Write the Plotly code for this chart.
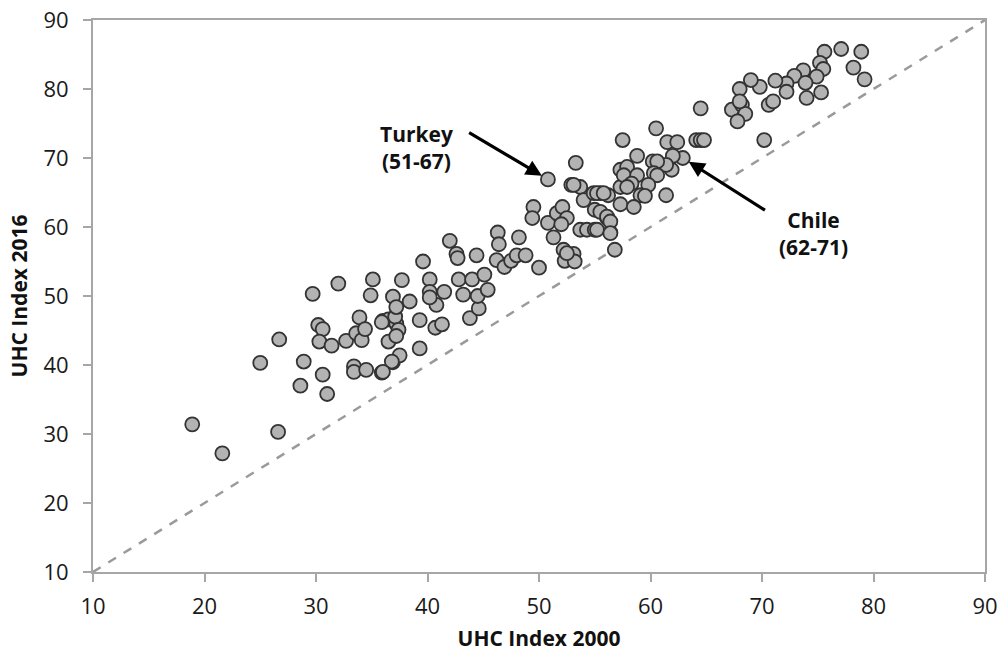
import plotly.graph_objects as go

# UHC Index 2000 (x) and 2016 (y)
uhc_2000 = [
    18.9, 21.6, 26.6, 25.0, 26.7, 28.6, 28.9, 29.7, 32.0, 35.1,
    34.9, 30.2, 30.6, 30.3, 31.4, 30.6, 31.0, 32.7, 33.9, 33.6,
    34.1, 34.4, 33.4, 33.4, 34.5, 35.9, 36.9, 36.0, 36.5, 37.2,
    37.1, 36.9, 37.2, 36.5, 37.7, 38.4, 37.4, 37.5, 36.8, 36.0,
    39.3, 39.3, 39.6, 40.2, 40.2, 41.5, 40.8, 40.7, 41.3, 42.0,
    42.6, 42.7, 42.8, 43.2, 44.0, 44.4, 43.8, 44.6, 44.5, 45.1,
    45.4, 46.3, 46.4, 46.2, 46.9, 47.5, 48.0, 48.8, 48.2, 50.0,
    49.5, 49.4, 50.8, 51.3, 51.6, 52.1, 52.5, 52.0, 52.2, 53.1,
    52.3, 53.2, 52.9, 53.7, 54.0, 53.7, 54.3, 55.0, 54.9, 55.5,
    56.2, 57.3, 57.3, 56.1, 56.4, 56.8, 50.8, 57.5, 60.5, 64.5,
    67.3, 68.2, 68.5, 67.8, 70.6, 70.2, 64.1, 64.5, 64.8, 61.5,
    62.4, 62.9, 62.0, 61.9, 61.4, 60.2, 60.6, 60.3, 60.6, 58.8,
    53.3, 57.3, 57.9, 57.6, 58.8, 58.3, 57.9, 59.8, 59.1, 59.5,
    58.5, 61.4, 55.2, 55.8, 55.0, 55.5, 56.1, 56.4, 55.2, 56.4,
    53.1, 52.5, 75.6, 77.1, 78.9, 78.2, 79.2, 75.2, 75.5, 74.9,
    73.7, 72.9, 73.9, 74.0, 75.3, 72.2, 72.2, 71.2, 71.0, 69.8,
    69.0, 68.0, 68.0, 40.2, 35.9, 37.2,
]
uhc_2016 = [
    31.4, 27.2, 30.3, 40.3, 43.7, 37.0, 40.5, 50.3, 51.8, 52.4,
    50.1, 45.8, 45.2, 43.4, 42.8, 38.6, 35.8, 43.5, 46.9, 44.6,
    43.6, 45.2, 39.8, 39.0, 39.3, 38.9, 40.4, 46.4, 46.6, 46.0,
    47.0, 49.9, 48.4, 43.4, 52.3, 49.2, 45.1, 41.4, 40.5, 39.0,
    42.4, 46.5, 55.0, 52.4, 50.6, 50.6, 48.7, 45.4, 45.9, 58.0,
    56.1, 55.5, 52.4, 50.2, 52.4, 55.9, 46.8, 48.2, 50.0, 53.1,
    50.9, 59.2, 57.5, 55.2, 54.2, 55.1, 55.9, 55.9, 58.5, 54.1,
    62.9, 61.3, 60.6, 58.5, 62.0, 62.9, 61.3, 60.4, 56.7, 56.1,
    55.1, 55.0, 66.1, 65.8, 63.9, 59.6, 59.6, 59.6, 64.9, 64.9,
    64.6, 65.8, 63.3, 61.3, 59.2, 56.7, 66.9, 72.6, 74.3, 77.2,
    77.0, 77.7, 76.4, 75.3, 77.7, 72.6, 72.6, 72.6, 72.6, 72.3,
    72.3, 70.0, 70.3, 68.3, 69.0, 69.5, 69.5, 67.8, 67.5, 70.3,
    69.3, 68.3, 68.7, 67.5, 67.5, 66.3, 65.8, 66.1, 64.6, 64.5,
    62.9, 64.6, 64.9, 64.9, 62.5, 62.2, 61.5, 60.8, 59.6, 59.1,
    66.1, 56.2, 85.4, 85.8, 85.4, 83.1, 81.4, 83.8, 82.9, 81.8,
    82.7, 81.9, 80.9, 78.7, 79.5, 80.8, 79.6, 81.2, 78.2, 80.3,
    81.3, 80.0, 78.2, 49.8, 46.2, 44.2,
]

axis_range = [10, 90]
tick_vals = [10, 20, 30, 40, 50, 60, 70, 80, 90]

# annotated countries: label, (2000, 2016) point, arrow tail in data units
labels = ["<b>Turkey</b><br><b>(51-67)</b>", "<b>Chile</b><br><b>(62-71)</b>"]
label_points = [(50.8, 66.9), (62.9, 70.0)]
arrow_tails = [(43.6, 73.8), (70.4, 62.3)]
label_pos = [(39.0, 71.5), (74.6, 59.1)]

fig = go.Figure()

# line of equality
fig.add_trace(go.Scatter(
    x=axis_range, y=axis_range, mode="lines",
    line=dict(color="#9a9a9a", width=2.5, dash="dash"),
    hoverinfo="skip", showlegend=False,
))

fig.add_trace(go.Scatter(
    x=uhc_2000, y=uhc_2016, mode="markers",
    marker=dict(size=14, color="#b3b3b3",
                line=dict(color="#333333", width=1.8)),
    showlegend=False,
))

label_font = dict(family="Open Sans, Lato, sans-serif", size=21, color="#111111")

for text, (px, py), (tx, ty), (lx, ly) in zip(labels, label_points, arrow_tails, label_pos):
    fig.add_annotation(
        x=px, y=py, ax=tx, ay=ty, axref="x", ayref="y",
        xref="x", yref="y", text="", showarrow=True,
        arrowhead=2, arrowsize=1.0, arrowwidth=3.2, arrowcolor="#000000",
        standoff=7,
    )
    fig.add_annotation(
        x=lx, y=ly, xref="x", yref="y", text=text, showarrow=False,
        font=label_font, align="center",
    )

axis_common = dict(
    range=axis_range, tickvals=tick_vals, showgrid=False, zeroline=False,
    showline=True, linecolor="#a6a6a6", linewidth=2, mirror=True,
    ticks="outside", ticklen=8, tickcolor="#a6a6a6", tickwidth=2,
    tickfont=dict(family="Open Sans, sans-serif", size=22, color="#1a1a1a"),
    automargin=False,
)

fig.update_layout(
    width=1004, height=655,
    margin=dict(l=93, r=19, t=20, b=83),
    paper_bgcolor="white", plot_bgcolor="white",
    xaxis=dict(**axis_common, ticklabelstandoff=6,
               title=dict(text="<b>UHC Index 2000</b>", font=label_font, standoff=12)),
    yaxis=dict(**axis_common, ticklabelstandoff=10,
               title=dict(text="<b>UHC Index 2016</b>", font=label_font, standoff=10)),
)

fig.write_html("out.html")
